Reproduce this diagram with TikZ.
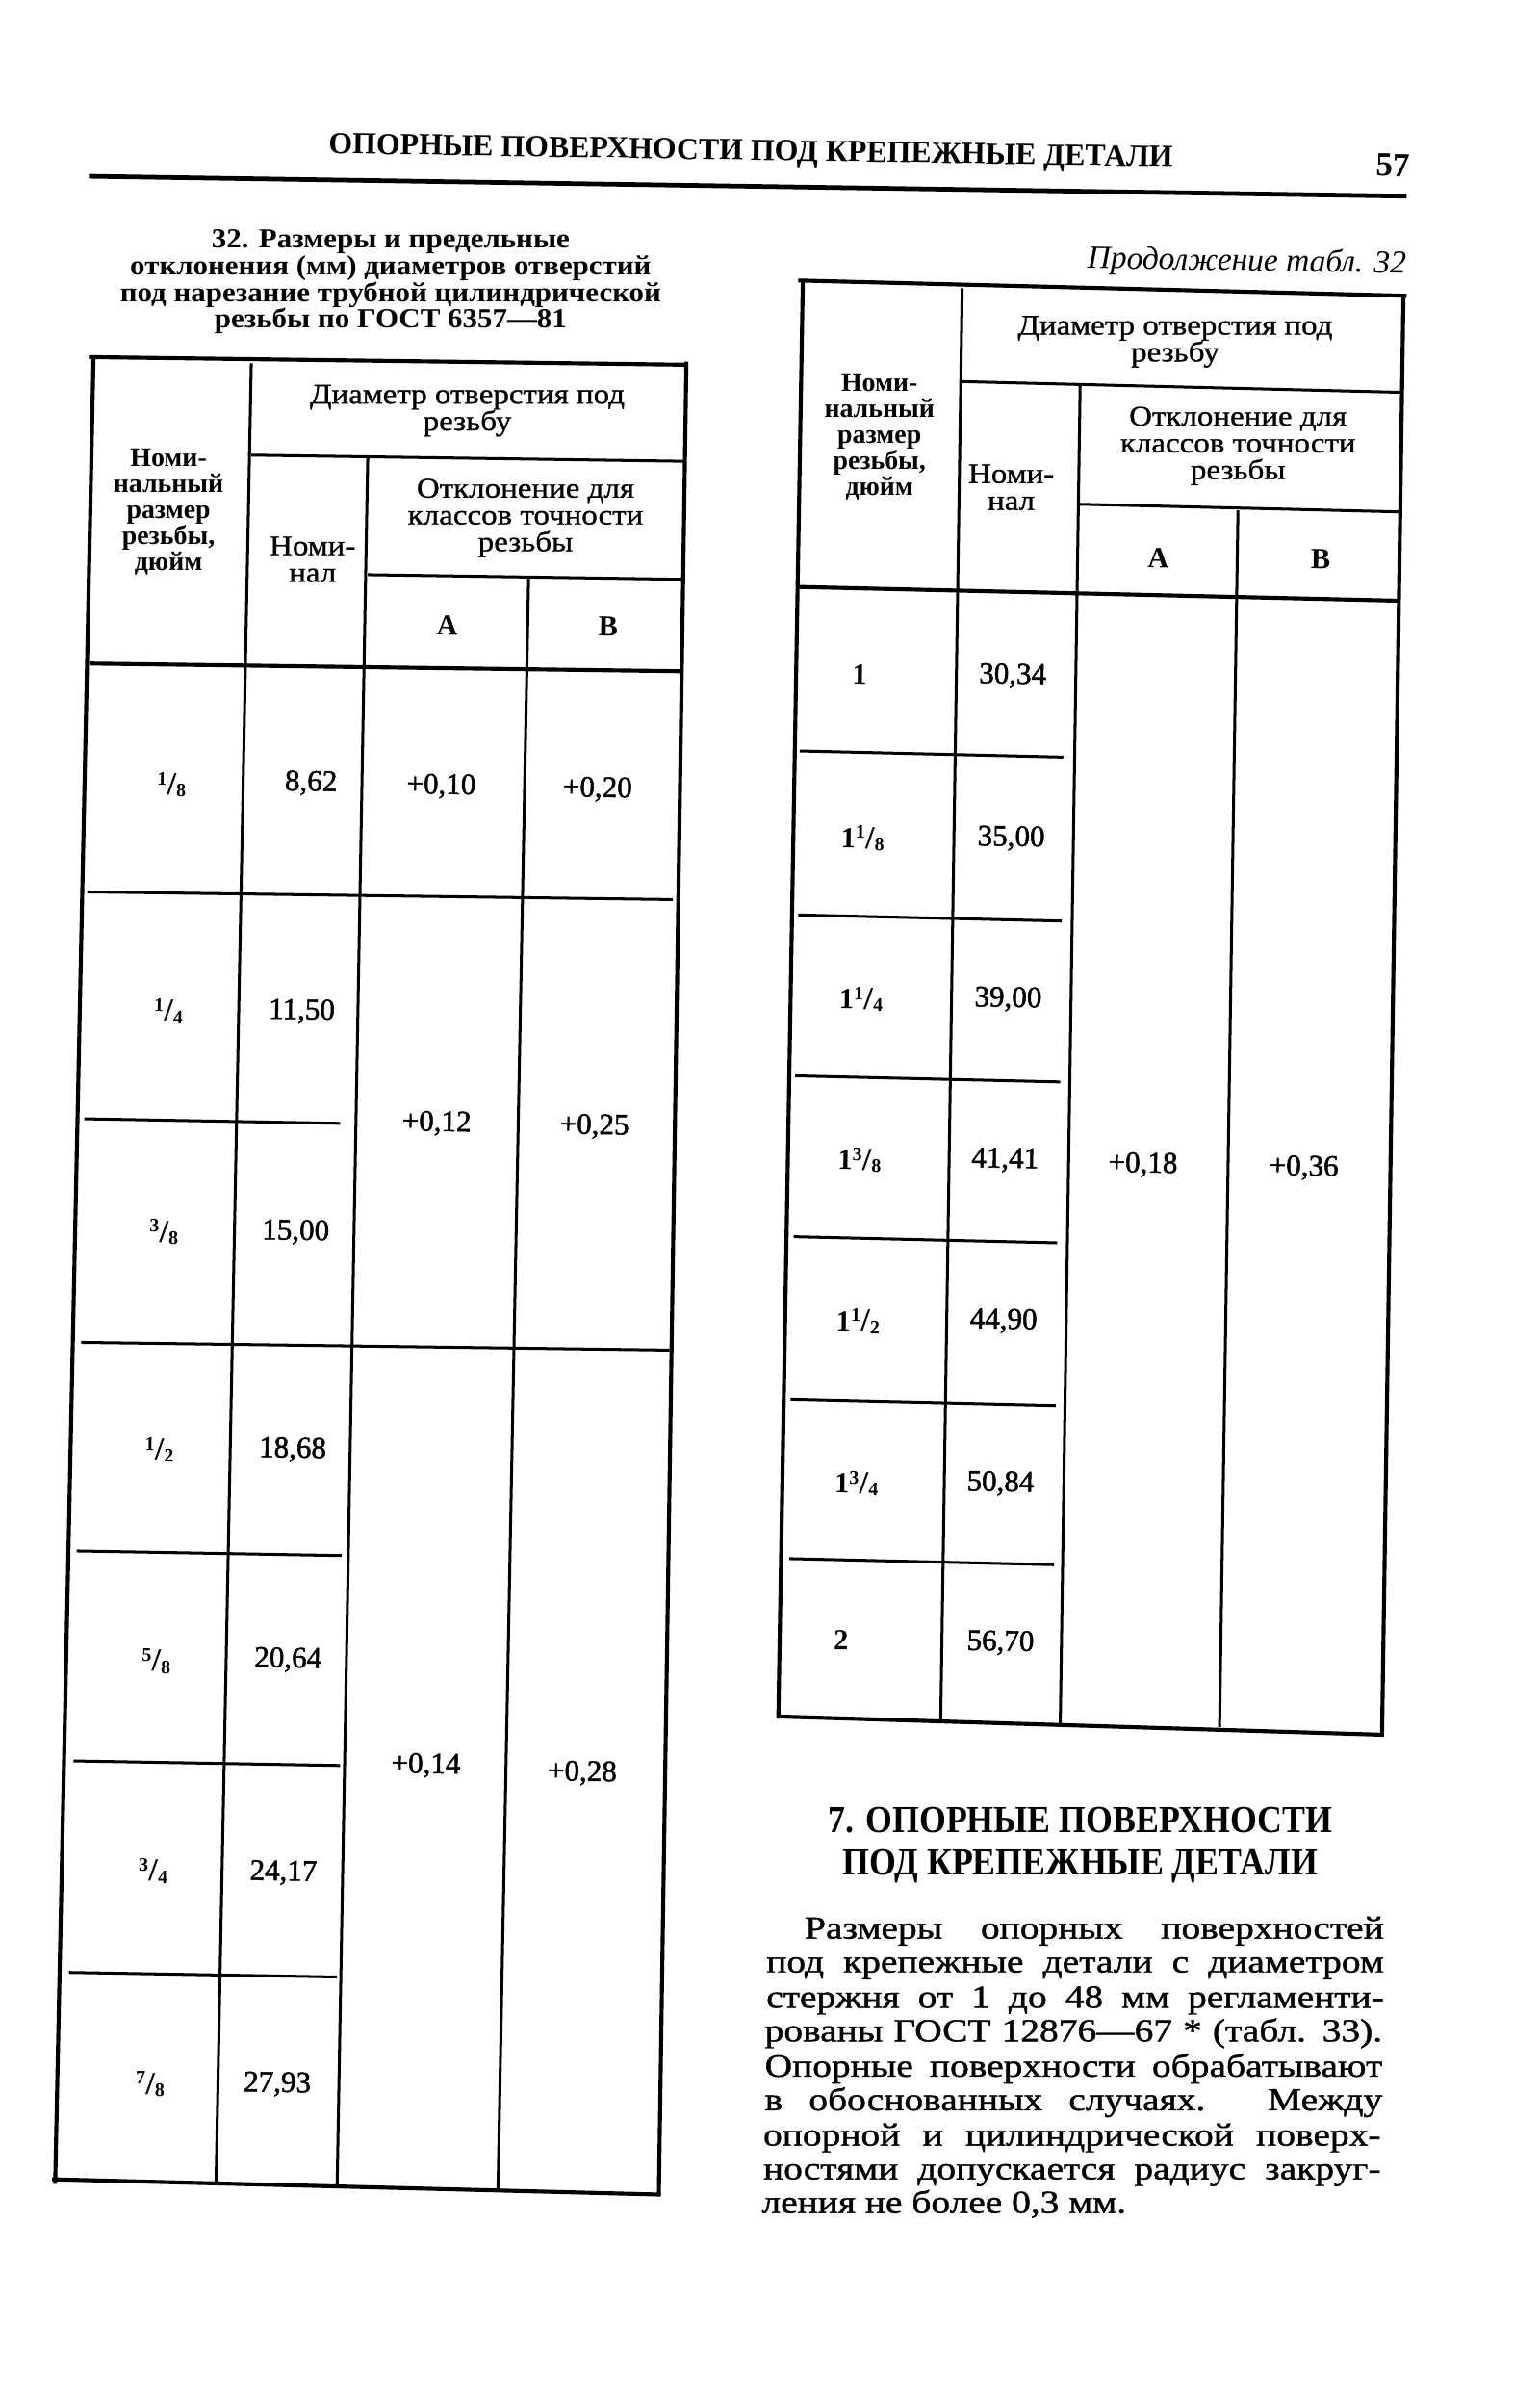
\documentclass[tikz,border=0pt]{standalone}
\usepackage{fontspec}
\setmainfont{Liberation Serif}
\newfontfamily\headf[FakeStretch=0.9]{Liberation Serif}
\newfontfamily\capf[FakeStretch=1.08]{Liberation Serif}
\newfontfamily\parf[FakeStretch=1.18,FakeBold=1.2]{Liberation Serif}
\newfontfamily\thf[FakeStretch=1.12,FakeBold=1.0]{Liberation Serif}
\newfontfamily\numf[FakeBold=1.6]{Liberation Serif}
\newcommand\fr[2]{\textbf{{\fontsize{12.5}{12.5}\selectfont\raisebox{0.5em}{#1}}\kern0.3pt{\fontsize{21}{21}\selectfont/}\kern0.2pt{\fontsize{12.5}{12.5}\selectfont\raisebox{-0.12em}{#2}}}}
\begin{document}
\begin{tikzpicture}[x=1pt,y=-1pt,
  brule/.style={line width=2.6pt},
  tline/.style={line width=1.9pt},
  txt/.style={inner sep=0pt, rotate=-0.9, align=center},
  mtxt/.style={inner sep=0pt, align=center},
  th/.style={mtxt, font=\thf\fontsize{18.5}{17.5}\selectfont},
  thb/.style={mtxt, font=\bfseries\fontsize{17.5}{17}\selectfont},
  num/.style={txt, font=\numf\fontsize{19.5}{19.5}\selectfont},
  frc/.style={txt, font=\bfseries\fontsize{19}{19}\selectfont},
  para/.style={inner sep=0pt, anchor=base west, font=\parf\fontsize{21}{22.5}\selectfont},
]
\useasboundingbox (0,0) rectangle (1005,1568);
\fill[white] (0,0) rectangle (1005,1568);

% running head
\node[txt, font=\bfseries\fontsize{20}{20}\selectfont] (rh) at (490,100) {ОПОРНЫЕ ПОВЕРХНОСТИ ПОД КРЕПЕЖНЫЕ ДЕТАЛИ};
\node[txt, font=\bfseries\fontsize{22}{22}\selectfont] (pg) at (909,108) {57};
\draw[line width=3pt] (58,115) -- (918,128);

% caption
\node[mtxt, font=\capf\bfseries\fontsize{18}{17.4}\selectfont] (cap) at (255,184) {32. Размеры и предельные\\отклонения (мм) диаметров отверстий\\под нарезание трубной цилиндрической\\резьбы по ГОСТ 6357—81};
\node[txt, anchor=east, font=\itshape\fontsize{21}{21}\selectfont] (cont) at (918,173) {Продолжение табл. 32};

% ---------- left table lines
\draw[brule] (58,233) -- (448,238);
\draw[brule] (61,234) -- (36,1425);
\draw[brule] (448,236) -- (430,1433);
\draw[brule] (34,1422) -- (431,1432);
\draw[tline] (164,237) -- (141,1424);
\draw[tline] (240,299) -- (220,1428);
\draw[tline] (345,377) -- (325,1430);
\draw[tline] (164,297) -- (446,301);
\draw[tline] (240,375) -- (445,378);
\draw[brule] (59,433) -- (444,438);
\draw[tline] (57,582) -- (439,587);
\draw[tline] (55,730) -- (222,733);
\draw[tline] (53,876) -- (437,881);
\draw[tline] (50,1012) -- (223,1015);
\draw[tline] (48,1149) -- (222,1152);
\draw[tline] (45,1287) -- (220,1290);

% left table header
\node[thb] (lh1) at (110,334) {Номи-\\нальный\\размер\\резьбы,\\дюйм};
\node[th] (lh2) at (204,365) {Номи-\\нал};
\node[th] (lh3) at (305,268) {Диаметр отверстия под\\резьбу};
\node[th] (lh4) at (343,338) {Отклонение для\\классов точности\\резьбы};
\node[frc] (lA) at (292,408) {А};
\node[frc] (lB) at (397,409) {В};

% left table body
\node[frc] (l1a) at (112,512) {\fr{1}{8}};
\node[num] (l1b) at (203,511) {8,62};
\node[num] (l1c) at (288,513) {+0,10};
\node[num] (l1d) at (390,515) {+0,20};
\node[frc] (l2a) at (110,660) {\fr{1}{4}};
\node[num] (l2b) at (197,660) {11,50};
\node[num] (l2c) at (285,733) {+0,12};
\node[num] (l2d) at (388,735) {+0,25};
\node[frc] (l3a) at (107,804) {\fr{3}{8}};
\node[num] (l3b) at (193,804) {15,00};
\node[frc] (l4a) at (104,946) {\fr{1}{2}};
\node[num] (l4b) at (191,946) {18,68};
\node[frc] (l5a) at (102,1084) {\fr{5}{8}};
\node[num] (l5b) at (188,1083) {20,64};
\node[frc] (l6a) at (100,1221) {\fr{3}{4}};
\node[num] (l6b) at (185,1222) {24,17};
\node[frc] (l7a) at (98,1360) {\fr{7}{8}};
\node[num] (l7b) at (181,1360) {27,93};
\node[num] (l4c) at (278,1152) {+0,14};
\node[num] (l4d) at (380,1157) {+0,28};

% ---------- right table lines
\draw[brule] (521,183) -- (918,193);
\draw[brule] (524,183) -- (508,1121);
\draw[brule] (916,192) -- (902,1133);
\draw[brule] (507,1120) -- (903,1132);
\draw[tline] (628,188) -- (614,1122);
\draw[tline] (705,251) -- (692,1125);
\draw[tline] (808,333) -- (796,1127);
\draw[tline] (628,249) -- (914,256);
\draw[tline] (704,329) -- (913,334);
\draw[brule] (522,383) -- (914,392);
\draw[tline] (522,490) -- (694,494);
\draw[tline] (521,597) -- (693,601);
\draw[tline] (519,702) -- (692,706);
\draw[tline] (518,807) -- (690,811);
\draw[tline] (516,913) -- (689,917);
\draw[tline] (515,1017) -- (688,1021);

% right table header
\node[thb] (rh1) at (574,285) {Номи-\\нальный\\размер\\резьбы,\\дюйм};
\node[th] (rh2) at (660,318) {Номи-\\нал};
\node[th] (rh3) at (767,223) {Диаметр отверстия под\\резьбу};
\node[th] (rh4) at (808,291) {Отклонение для\\классов точности\\резьбы};
\node[frc] (rA) at (756,364) {А};
\node[frc] (rB) at (862,365) {В};

% right table body
\node[frc] (r1a) at (561,440) {1};
\node[num] (r1b) at (661,441) {30,34};
\node[frc] (r2a) at (563,547) {1\fr{1}{8}};
\node[num] (r2b) at (660,547) {35,00};
\node[frc] (r3a) at (562,652) {1\fr{1}{4}};
\node[num] (r3b) at (658,652) {39,00};
\node[frc] (r4a) at (561,757) {1\fr{3}{8}};
\node[num] (r4b) at (656,757) {41,41};
\node[frc] (r5a) at (560,862) {1\fr{1}{2}};
\node[num] (r5b) at (655,862) {44,90};
\node[frc] (r6a) at (559,968) {1\fr{3}{4}};
\node[num] (r6b) at (653,968) {50,84};
\node[frc] (r7a) at (549,1070) {2};
\node[num] (r7b) at (653,1072) {56,70};
\node[num] (rc) at (746,760) {+0,18};
\node[num] (rd) at (851,762) {+0,36};

% section heading
\node[mtxt, font=\headf\bfseries\fontsize{25}{28}\selectfont] (sec) at (705,1204) {7. ОПОРНЫЕ ПОВЕРХНОСТИ\\ПОД КРЕПЕЖНЫЕ ДЕТАЛИ};

% paragraph
\node[para] (p1) at (525,1265) {\makebox[378pt][s]{Размеры опорных поверхностей}};
\node[para] (p2) at (500,1287) {\makebox[403pt][s]{под крепежные детали с диаметром}};
\node[para] (p3) at (500,1310) {\makebox[403pt][s]{стержня от 1 до 48 мм регламенти-}};
\node[para] (p4) at (499,1332) {\makebox[403pt][s]{рованы ГОСТ 12876—67 * (табл. 33).}};
\node[para] (p5) at (499,1355) {\makebox[403pt][s]{Опорные поверхности обрабатывают}};
\node[para] (p6) at (499,1377) {\makebox[403pt][s]{в обоснованных случаях. Между}};
\node[para] (p7) at (498,1400) {\makebox[403pt][s]{опорной и цилиндрической поверх-}};
\node[para] (p8) at (498,1422) {\makebox[403pt][s]{ностями допускается радиус закруг-}};
\node[para] (p9) at (497,1444) {ления не более 0,3 мм.};
\end{tikzpicture}
\end{document}
